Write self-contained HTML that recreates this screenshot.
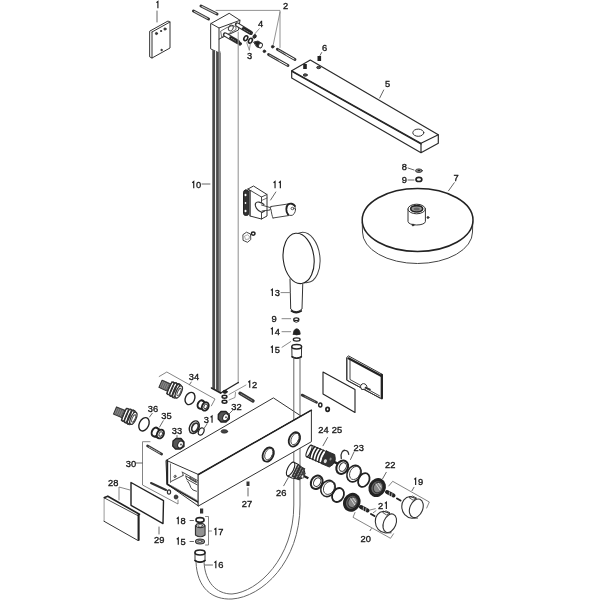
<!DOCTYPE html>
<html><head><meta charset="utf-8">
<style>
html,body{margin:0;padding:0;background:#fff;}
svg{display:block;}
text{font-family:"Liberation Sans",sans-serif;font-size:9.3px;fill:#1a1a1a;stroke:#1a1a1a;stroke-width:0.35px;}
svg{will-change:transform;}
</style></head><body>
<svg width="600" height="600" viewBox="0 0 600 600">
<defs>
<g id="bolt"><line x1="0" y1="0" x2="1" y2="0"/></g>
</defs>
<g fill="none" stroke="#333" stroke-width="1" stroke-linejoin="round" stroke-linecap="round">

<!-- ===== Part 1 plate ===== -->
<path d="M150,31 L168,21 L170,22 L170,48 L152,58 L150,57 Z"/>
<path d="M152,32 L170,22 M152,32 L152,58"/>
<line x1="157" y1="11" x2="157" y2="22" stroke="#666"/>
<circle cx="156.5" cy="33.5" r="1.1" fill="#333"/>
<circle cx="165" cy="29" r="1.1" fill="#333"/>
<circle cx="161" cy="31" r="0.6" fill="#333"/>
<circle cx="161.5" cy="50" r="0.7" fill="#333"/>

<!-- ===== Bolts 2 left ===== -->
<path d="M201,6 L217,14 M193.5,11 L208.5,19" stroke="#333" stroke-width="3"/>
<path d="M202,6.5 L216,13.5 M194.5,11.5 L207.5,18.5" stroke="#ccc" stroke-width="1.1" stroke-dasharray="1.3 0.9"/>
<!-- leader 2 -->
<path d="M216,10.4 L280,10.4 L280,47.5 M280,12 L273.3,44.5" stroke="#777" stroke-width="0.8"/>
<!-- Bolts 2 right -->
<circle cx="272.7" cy="46.7" r="1.3" fill="#222"/>
<circle cx="264.4" cy="51.3" r="1.3" fill="#222"/>
<path d="M277.3,49.3 L295,59.5 M268.5,54.5 L288,65.5" stroke="#333" stroke-width="2.8"/>
<path d="M278.5,50 L286,54.3 M269.7,55.2 L279,60.5" stroke="#bbb" stroke-width="1" stroke-dasharray="1.2 0.9"/>
<path d="M286,54.5 L294,59 M279,60.5 L287,65" stroke="#fff" stroke-width="1"/>

<!-- ===== Wall bracket block ===== -->
<path d="M211,23.5 L229.2,13.3 L240,20.3 L238.5,30 L219,39 L219,53 L211,49 Z" fill="#fff"/>
<path d="M211,23.5 L219,28 L240,20.3 M219,28 L219,39"/>
<path d="M221,31 L227,27.5 L233,25.5 L236,27 L236,29.5 L229,33.5 L222,37 Z" stroke-width="0.7"/>
<ellipse cx="230.8" cy="28" rx="2.2" ry="3" transform="rotate(30 230.8 28)" stroke-width="0.9"/>
<!-- pins -->
<path d="M237,24.5 L250.8,32.8 M225,34.5 L237.9,42" stroke="#333" stroke-width="4.4"/>
<path d="M237.5,24.8 L242,27.5 M225.5,34.8 L229.5,37.1" stroke="#fff" stroke-width="2.4"/>
<path d="M243,28.5 L250,32.5 M230.5,37.5 L237,41.5" stroke="#222" stroke-width="2.6"/>
<path d="M244,29.5 L249.5,32.6 M231.5,38.5 L236.5,41.5" stroke="#aaa" stroke-width="0.7" stroke-dasharray="0.7 1.3"/>
<circle cx="240" cy="43.7" r="1.5" fill="#222"/>
<!-- rings 3,4 -->
<ellipse cx="245.8" cy="38.2" rx="1.7" ry="2.6" transform="rotate(30 245.8 38.2)" stroke-width="1.6" stroke="#222"/>
<ellipse cx="250.4" cy="40.7" rx="1.7" ry="2.6" transform="rotate(30 250.4 40.7)" stroke-width="1.6" stroke="#222"/>
<ellipse cx="254.6" cy="36.4" rx="1.5" ry="2" transform="rotate(30 254.6 36.4)" fill="#333" stroke="#222" stroke-width="0.8"/>
<path d="M254,42 L258,41 L262,43.5 L261,48 L257,47 Z" fill="#222"/>
<ellipse cx="260.5" cy="45.5" rx="1.8" ry="2.4" transform="rotate(30 260.5 45.5)" fill="#fff" stroke-width="0.9"/>
<path d="M259.3,28.7 L254.7,34 M249.3,50 L246.7,42.7 M249.3,50 L250.5,42.7" stroke="#666" stroke-width="0.7"/>

<!-- ===== Rail 10 ===== -->
<path d="M212.3,50 L220.7,53 L220.7,392 L212.3,388 Z" fill="#4a4a4a" stroke="none"/>
<path d="M215.6,51 L215.6,389.5" stroke="#fff" stroke-width="1"/>
<path d="M219.6,52 L219.6,391" stroke="#888" stroke-width="2.1"/>
<path d="M238.2,32 L238.2,383" stroke="#999" stroke-width="1.1"/>
<path d="M220.7,393 L238.3,382.5" stroke="#222" stroke-width="1.4"/>
<path d="M211.5,388 L220.7,393" stroke="#222" stroke-width="1.6"/>
<path d="M202,184 L210,184" stroke="#666"/>

<!-- ===== Arm 5 ===== -->
<path d="M310.3,60.1 L291.7,70.8 L421,143.3 L438.3,134.8 Z" stroke-width="1.2" stroke="#2a2a2a"/>
<path d="M291.7,70.8 L291.7,78 L421,152.7 L438.3,143.3 L438.3,134.8 M421,143.3 L421,152.7" stroke-width="1.2" stroke="#2a2a2a"/>
<path d="M292,71.5 L421,144" stroke-width="1.4" stroke="#222"/>
<ellipse cx="418.3" cy="132.7" rx="5.5" ry="3.6"/>
<rect x="317.5" y="56" width="3.6" height="5" fill="#222" stroke="none"/>
<rect x="303.2" y="64" width="3.6" height="5" fill="#222" stroke="none"/>
<ellipse cx="318.7" cy="67.5" rx="2" ry="1.2" fill="#555"/>
<ellipse cx="305.3" cy="75" rx="2" ry="1.2" fill="#555"/>
<path d="M321.7,52.5 L320,55.5 M383.7,90 L379.7,98" stroke="#666"/>

<!-- ===== Head shower 7 ===== -->
<path d="M362.2,222 L362.5,232 A55,31.5 0 0 0 472.5,232 L472.8,221" stroke="#444"/>
<ellipse cx="417.6" cy="220" rx="55.4" ry="31.5" stroke-width="1.5" stroke="#222" fill="#fff"/>
<path d="M408,209 L408,221.5 A8.7,3.5 0 0 0 425.4,221.5 L425.4,209"/>
<ellipse cx="416.7" cy="209" rx="8.7" ry="4.8" fill="#fff"/>
<ellipse cx="416.7" cy="208.8" rx="6" ry="3.2" fill="#999" stroke="#222" stroke-width="1.6"/>
<ellipse cx="416.7" cy="209" rx="3" ry="1.5" fill="#666" stroke="none"/>
<circle cx="428" cy="217.5" r="0.9" fill="#222"/>
<circle cx="413" cy="225" r="0.9" fill="#222"/>
<ellipse cx="418.9" cy="170.7" rx="3.4" ry="1.8" fill="#888" stroke="#333" stroke-width="0.9"/>
<ellipse cx="418.9" cy="170.5" rx="1.3" ry="0.8" fill="#222" stroke="none"/>
<ellipse cx="418.9" cy="179.4" rx="2.9" ry="2.1" fill="#fff" stroke-width="1.7" stroke="#222"/>
<path d="M408,168 L414,170 M408,180 L414,180 M454.3,182.7 L448.5,190.8" stroke="#666"/>

<!-- ===== Holder 11 ===== -->
<rect x="243.5" y="190" width="5.2" height="25.5" rx="2.3" fill="#333" stroke="#222"/>
<ellipse cx="245.5" cy="195" rx="1" ry="1.3" fill="#fff" stroke="none"/>
<ellipse cx="245.5" cy="203" rx="0.8" ry="1" fill="#fff" stroke="none"/>
<ellipse cx="245.5" cy="211" rx="1" ry="1.3" fill="#fff" stroke="none"/>
<path d="M248,189 L253.5,186 L267,194.5 L267,216 L261.5,219 L250,216 L250,191 Z" fill="#fff"/>
<path d="M248,189 L261.5,197 L267,194.5 M261.5,197 L261.5,219 M250,191 L250,216" stroke-width="0.9"/>
<path d="M250,191 L251,190.5 M261.5,200.5 L267,198" stroke-width="0.7"/>
<path d="M264,204.5 C261,202 256.5,201 255.5,203.5 C254.5,206 257,211 262,212.5 L264.5,211" fill="#fff" stroke-width="1.1"/>
<path d="M261.5,205 L270,207.5 M262,211 L270,210 L271,206.5" stroke-width="0.9"/>
<path d="M271,206.5 L288,204 M273,218 L289,215.5 M271,209.5 C271.5,213 272,216 273,218" stroke-width="0.9"/>
<ellipse cx="291" cy="209.5" rx="4.5" ry="6" fill="#fff" stroke-width="0.9"/>
<path d="M288,214.5 C285.5,212 286,206 288,204.5 C290,203 293.5,203.5 295,206" stroke="#222" stroke-width="1.8"/>
<ellipse cx="292.5" cy="208.5" rx="1.5" ry="1.2" stroke-width="0.8"/>
<path d="M275.8,192 L270.6,200" stroke="#666"/>
<path d="M243.2,234.5 L246.5,232.2 L250.5,234 L250.8,239.5 L247.5,242.3 L243.4,240.5 Z" stroke-width="0.9"/>
<path d="M244.8,236 L247.5,234.8 L249.5,236.5 L249,239 L246,239.5 Z" stroke-width="0.6" stroke="#777"/>
<ellipse cx="253.2" cy="233.6" rx="1.8" ry="1.6" stroke="#222" stroke-width="1.5"/>

<!-- ===== Hand shower 13 ===== -->
<ellipse cx="304.5" cy="257.5" rx="15.4" ry="25.3" transform="rotate(-7 304.5 257.5)" stroke="#444"/>
<path d="M290,279 L290.7,309 Q296,314.5 302,309 L302.75,284.25" fill="#fff"/>
<path d="M291.5,311 Q296,314 301.2,311" stroke="#222" stroke-width="1.8"/>
<ellipse cx="298.6" cy="258.4" rx="15.4" ry="25.3" transform="rotate(-7 298.6 258.4)" fill="#fff" stroke="#222" stroke-width="1.1"/>
<path d="M281,292.6 L290,292.6 M282,318.7 L290.7,318.7 M282,331.7 L290.7,331.7 M282,347.3 L290.7,341.6" stroke="#888"/>
<path d="M293.8,319.2 L293.8,321.3 Q296.3,323.2 298.8,321.3 L298.8,319.2" fill="#fff" stroke="#222" stroke-width="1"/>
<ellipse cx="296.3" cy="319.2" rx="2.5" ry="1.3" fill="#fff" stroke="#222" stroke-width="1.1"/>
<path d="M293.3,334.2 Q293.5,329 296.7,328.8 Q299.9,329 300.2,334.2 Q296.7,335.6 293.3,334.2 Z" fill="#222" stroke="#222" stroke-width="0.8"/>
<ellipse cx="296.7" cy="339.5" rx="3.4" ry="1.6" stroke="#222" stroke-width="1.3"/>
<!-- hose end fitting -->
<path d="M291.8,346.8 L292,357 Q296.7,359.5 301.4,357 L301.6,346.8" fill="#fff" stroke-width="1"/>
<path d="M292,356.8 Q296.7,359.6 301.4,356.8" stroke="#222" stroke-width="1.6"/>
<ellipse cx="296.7" cy="346.8" rx="4.9" ry="2.2" fill="#fff" stroke="#222" stroke-width="1.5"/>

<!-- ===== Frame & glass panel ===== -->
<path d="M348.7,356 L382.2,374.3 L382.2,398.6 L380,398 L346.8,380.2 L346.8,358 Z" fill="#fff" stroke-width="1"/>
<path d="M348.5,358.3 L381,375.8" stroke="#222" stroke-width="2.2"/>
<path d="M381.8,375 L381.8,398.3" stroke="#222" stroke-width="2.3"/>
<path d="M350,360 L350,379.5 L379.5,395.8" stroke-width="0.9"/>
<path d="M346.8,358 L346.8,380.2 L380,398" stroke-width="1"/>
<path d="M360.5,386.5 C360.5,384 363,383 365,384 C367,385 367.5,387.5 366,389 L362,389.5 Z" fill="#fff" stroke-width="1"/>
<path d="M365.5,387.5 L370,389.5" stroke-width="1.6"/>
<path d="M323,372 L355,389.5 L355,412.4 L323,394 Z" stroke="#222" stroke-width="1.1"/>
<path d="M302,395 L316.6,402.3" stroke="#333" stroke-width="2.6"/>
<path d="M305,396.6 L315.5,401.8" stroke="#888" stroke-width="0.9" stroke-dasharray="1 1"/>
<ellipse cx="320.3" cy="405" rx="1.6" ry="2" stroke-width="1.4" stroke="#222"/>
<ellipse cx="327.6" cy="409.3" rx="1.7" ry="2" stroke-width="1.7" stroke="#222"/>

<!-- ===== Body box ===== -->
<path d="M166.3,460.3 L273.4,397.9 L301,416 L198.4,474.5 L198.4,506 L167.3,484.3 Z" fill="#fff"/>
<path d="M166.3,460.3 L198.4,474.5"/>
<path d="M167.3,461 L167.3,484.3 L198,502" stroke="#222" stroke-width="1.8"/>
<path d="M170.5,464 L170.5,482.5" stroke="#777" stroke-width="1"/>
<path d="M171,481.5 L183.1,475.5 M182.2,472 Q183.5,474 183.1,475.5 M183,472.5 L197.5,480.5 M186,476.1 L197.1,482.5 M186.6,479 L197.1,484.8 M185.8,476 Q186,478.5 186.6,479" stroke-width="0.9"/>
<path d="M190,477.5 L196,480.8 Q197,482 196,482.3 L190,479 Q189,478 190,477.5 Z" stroke-width="0.8"/>
<path d="M187.5,481 Q190,484 190.8,487.5 Q192,490.5 196.5,491.3" stroke-width="0.9"/>
<ellipse cx="175" cy="476.4" rx="0.9" ry="1.3" transform="rotate(30 175 476.4)" stroke-width="0.8"/>
<path d="M172,486 L196.5,500" stroke="#888" stroke-width="0.8"/>
<ellipse cx="224.4" cy="431.4" rx="3.3" ry="1.7" fill="#444"/>
<!-- Hose 16 -->
<path d="M293.8,358 L293.8,505 C293.8,558 258,592 232,594 C216,594 205,582 204,562" stroke="#666"/>
<path d="M300,358 L300,505 C300,562 262,597 232,599 C212,600 197,588 196,562" stroke="#666"/>
<!-- front plate -->
<path d="M198.4,474.5 L311.4,410.2 L311.4,441.7 L198.4,506 Z" fill="#fff"/>
<path d="M198.4,474.5 L311.4,410.2" stroke="#222" stroke-width="1.5"/>
<ellipse cx="294.4" cy="439.4" rx="5.2" ry="7.5" transform="rotate(25 294.4 439.4)" stroke-width="1.8" stroke="#222"/>
<ellipse cx="295" cy="439" rx="3.6" ry="6" transform="rotate(25 295 439)" stroke-width="0.8"/>
<ellipse cx="268.2" cy="454.5" rx="5.2" ry="7.5" transform="rotate(25 268.2 454.5)" stroke-width="1.8" stroke="#222"/>
<ellipse cx="268.8" cy="454.1" rx="3.6" ry="6" transform="rotate(25 268.8 454.1)" stroke-width="0.8"/>
<rect x="246.5" y="481.5" width="3" height="4.5" fill="#333" stroke="none"/>
<rect x="200" y="508.5" width="3.2" height="5" fill="#333" stroke="none"/>
<line x1="248" y1="488" x2="248" y2="496" stroke="#666"/>

<!-- ===== Rings 12, bolt 12, nut 32 ===== -->
<ellipse cx="225" cy="391.8" rx="2.2" ry="1.5" fill="#222" stroke="#222"/>
<ellipse cx="224.5" cy="396.8" rx="2.4" ry="1.5" stroke-width="1.5" stroke="#222"/>
<ellipse cx="224.5" cy="401.8" rx="2.4" ry="1.5" stroke-width="1.5" stroke="#222"/>
<path d="M229,394.5 L246,385 M229,400 L235,397.5 L235.5,392.5" stroke="#777" stroke-width="0.8"/>
<path d="M240,393.3 L253,401" stroke="#333" stroke-width="3.4"/>
<path d="M241,394 L252,400.5" stroke="#888" stroke-width="1" stroke-dasharray="1 1"/>
<path d="M218.3,414.5 L221,411.5 L226,411.5 L229.3,415 L229.3,419 L226,422 L221,422 L218.2,419 Z" fill="#555" stroke="#222" stroke-width="1.3"/>
<ellipse cx="225.5" cy="417.3" rx="2.6" ry="3.6" transform="rotate(25 225.5 417.3)" fill="#fff" stroke="#222" stroke-width="1"/>
<circle cx="226" cy="417.3" r="1" fill="#555" stroke="none"/>
<path d="M232.5,410.5 L229,414" stroke="#666"/>

<!-- ===== Valves 34 / 36 ===== -->
<path d="M159.2,376.5 L166.8,372 L215,399 L211.4,405.8" stroke="#666" stroke-width="0.8"/>
<path d="M191.25,382 L189.4,384.75" stroke="#666"/>
<g transform="translate(160.5 383.8) rotate(24)">
  <rect x="0" y="-3.9" width="9.5" height="7.8" fill="#888" stroke="#333" stroke-width="1.1"/>
  <path d="M2,-3.9 L2,3.9 M4,-3.9 L4,3.9 M6,-3.9 L6,3.9 M8,-3.9 L8,3.9" stroke="#555" stroke-width="0.7"/>
  <path d="M9.5,-6.5 L18.5,-7.5 L21,-6 L21,6 L18.5,7.5 L9.5,6.5 Z" fill="#fff" stroke="#333"/>
  <ellipse cx="11" cy="0" rx="1.6" ry="6.8" fill="none" stroke="#333" stroke-width="1.3"/>
  <ellipse cx="14" cy="0" rx="1.8" ry="7.2" fill="none" stroke="#333" stroke-width="1.6"/>
  <ellipse cx="17" cy="0" rx="2" ry="7.4" fill="none" stroke="#333" stroke-width="1.6"/>
  <ellipse cx="20" cy="0" rx="2.6" ry="6.5" fill="#fff" stroke="#333" stroke-width="1.3"/>
  <ellipse cx="20.3" cy="0" rx="1.4" ry="4" fill="none" stroke="#444" stroke-width="0.9"/>
</g>
<ellipse cx="190" cy="398.5" rx="4.6" ry="6.4" transform="rotate(25 190 398.5)" stroke-width="1.4" stroke="#222"/>
<ellipse cx="201" cy="404.5" rx="3.2" ry="4.3" transform="rotate(25 201 404.5)" stroke-width="2" stroke="#222" fill="#fff"/>
<path d="M201.5,400.5 L205.5,402.5 M200,408.5 L204.5,410.5" stroke="#222" stroke-width="1.2"/>
<ellipse cx="205.3" cy="406.4" rx="3.2" ry="4.3" transform="rotate(25 205.3 406.4)" stroke-width="1.9" stroke="#222" fill="#fff"/>
<ellipse cx="205.6" cy="406.4" rx="1.6" ry="2.4" transform="rotate(25 205.6 406.4)" stroke-width="0.9"/>

<g transform="translate(115 410.5) rotate(23)">
  <rect x="0" y="-3.9" width="9.5" height="7.8" fill="#888" stroke="#333" stroke-width="1.1"/>
  <path d="M2,-3.9 L2,3.9 M4,-3.9 L4,3.9 M6,-3.9 L6,3.9 M8,-3.9 L8,3.9" stroke="#555" stroke-width="0.7"/>
  <path d="M9.5,-6.5 L18.5,-7.5 L21,-6 L21,6 L18.5,7.5 L9.5,6.5 Z" fill="#fff" stroke="#333"/>
  <ellipse cx="11" cy="0" rx="1.6" ry="6.8" fill="none" stroke="#333" stroke-width="1.3"/>
  <ellipse cx="14" cy="0" rx="1.8" ry="7.2" fill="none" stroke="#333" stroke-width="1.6"/>
  <ellipse cx="17" cy="0" rx="2" ry="7.4" fill="none" stroke="#333" stroke-width="1.6"/>
  <ellipse cx="20" cy="0" rx="2.6" ry="6.5" fill="#fff" stroke="#333" stroke-width="1.3"/>
  <ellipse cx="20.3" cy="0" rx="1.4" ry="4" fill="none" stroke="#444" stroke-width="0.9"/>
</g>
<ellipse cx="144" cy="424.3" rx="4.7" ry="7" transform="rotate(25 144 424.3)" stroke-width="1.4" stroke="#222"/>
<path d="M152.25,413.3 L149.5,417 M163.25,420.7 L159.6,427" stroke="#666"/>
<!-- nut 35 -->
<ellipse cx="155.2" cy="432" rx="3.3" ry="4.6" transform="rotate(25 155.2 432)" stroke-width="2" stroke="#222" fill="#fff"/>
<path d="M155.5,427.5 L160.5,429.5 M153.5,436.5 L159,438.5" stroke="#222" stroke-width="1.2"/>
<ellipse cx="160.4" cy="434" rx="3.3" ry="4.6" transform="rotate(25 160.4 434)" stroke-width="1.9" stroke="#222" fill="#fff"/>
<ellipse cx="160.7" cy="434" rx="1.6" ry="2.4" transform="rotate(25 160.7 434)" stroke-width="0.9"/>
<!-- nut 33 -->
<path d="M173,441 L176,438.5 L181,438.5 L184,442 L184,446.5 L180.5,449 L175.5,449 L172.7,446 Z" fill="#555" stroke="#222" stroke-width="1.3"/>
<ellipse cx="180.5" cy="444.5" rx="2.6" ry="3.6" transform="rotate(25 180.5 444.5)" fill="#fff" stroke="#222" stroke-width="1"/>
<circle cx="181" cy="444.5" r="1" fill="#555" stroke="none"/>
<path d="M177,435.5 L177,438" stroke="#666"/>
<!-- washer 31 -->
<ellipse cx="194.3" cy="427.2" rx="4.6" ry="6.6" transform="rotate(25 194.3 427.2)" stroke-width="1.4" stroke="#222"/>
<ellipse cx="195" cy="427.4" rx="2.9" ry="4.6" transform="rotate(25 195 427.4)" stroke-width="1.8" stroke="#333"/>
<ellipse cx="201.2" cy="431.5" rx="2.6" ry="3.8" transform="rotate(25 201.2 431.5)" stroke-width="1.2" stroke="#222"/>
<path d="M207,424 L204,428.5" stroke="#666"/>

<!-- ===== Part 30, 28, 29 ===== -->
<path d="M150,441.7 L142.5,441.7 L142.5,485 L178,504 L178,500" stroke="#666" stroke-width="0.8"/>
<path d="M136,463 L142.5,463" stroke="#666"/>
<path d="M147.5,445.8 L161.7,454.2" stroke="#333" stroke-width="2.6"/>
<path d="M149,447 L160,453.2" stroke="#fff" stroke-width="0.7" stroke-dasharray="1 1"/>
<path d="M151,483 L166,490" stroke="#333" stroke-width="2"/>
<ellipse cx="169" cy="492" rx="1.6" ry="2.2" stroke-width="1.2"/>
<ellipse cx="176" cy="497" rx="1.8" ry="2" fill="#444"/>
<path d="M131,482.5 L163.5,500.7 L163,523.6 L131,505.3 Z" stroke="#222" stroke-width="1.4"/>
<path d="M104.1,497.8 L104.1,521.3" stroke="#999" stroke-width="1"/>
<path d="M104.1,521.3 L137.6,540.3" stroke="#333" stroke-width="1"/>
<path d="M104.1,497.8 L137.6,515.5" stroke="#333" stroke-width="0.9"/>
<path d="M104.5,497.5 L107.8,496.2 L139.4,514.3" stroke="#222" stroke-width="1.7"/>
<path d="M138.6,514.8 L138.6,540" stroke="#222" stroke-width="2.1"/>
<path d="M119,500 L119,487 L130,490" stroke="#666" stroke-width="0.8"/>
<path d="M159,527 L159,534" stroke="#666"/>

<!-- ===== 17, 18, 15, 16 ===== -->
<ellipse cx="200" cy="520" rx="4" ry="2.3" stroke-width="1.7" stroke="#222"/>
<path d="M195.5,525.5 L195.5,535 Q200.3,538.5 205,535 L205,525.5" fill="#b5b5b5" stroke="#333" stroke-width="1.2"/>
<path d="M197,528 L197,535.5 M199,528.5 L199,536.5 M201,528.5 L201,536.5 M203,528 L203,535.5" stroke="#555" stroke-width="0.7"/>
<ellipse cx="200.3" cy="525.5" rx="4.2" ry="2.2" fill="#fff" stroke-width="1.2"/>
<ellipse cx="200.3" cy="525.8" rx="2.4" ry="1.2" stroke-width="0.8"/>
<ellipse cx="200" cy="541.5" rx="4.5" ry="2.5" fill="#999" stroke="#333" stroke-width="1.1"/>
<ellipse cx="200" cy="541.3" rx="2" ry="1" fill="#fff" stroke-width="0.8"/>
<path d="M205.5,516.5 L208.5,516.5 L208.5,545 L205.5,545 M208.5,531 L211.5,531" stroke="#666" stroke-width="0.8"/>
<path d="M190,520.5 L193.5,520.5 M190,541.5 L193.5,541.5" stroke="#666"/>
<path d="M195,552.5 L195,561 Q200,564 205,561 L205,552.5" fill="#fff" stroke-width="1"/>
<path d="M195,560.5 Q200,563.8 205,560.5" stroke="#222" stroke-width="1.6"/>
<ellipse cx="200" cy="552.5" rx="5" ry="2.5" fill="#fff" stroke-width="1.6" stroke="#222"/>
<path d="M204.5,565 L212.5,565" stroke="#666"/>

<!-- ===== Lower right: 24,25,23,22,26,21,20,19 ===== -->
<!-- cartridge 24 -->
<g transform="translate(309 451) rotate(23)">
  <path d="M0,-6.3 L17,-6.3 L17,6.3 L0,6.3" fill="#fff" stroke="#222" stroke-width="1"/>
  <ellipse cx="0" cy="0" rx="1.8" ry="6.3" fill="#fff" stroke="#222" stroke-width="1.1"/>
  <path d="M3.5,-6.3 Q1.7,0 3.5,6.3 M6.7,-6.3 Q4.9,0 6.7,6.3 M9.9,-6.3 Q8.1,0 9.9,6.3 M13.1,-6.3 Q11.3,0 13.1,6.3" stroke="#222" stroke-width="1.5"/>
  <path d="M16,-6.8 L25,-6.8 Q28,-3 28,0 Q28,3 25,6.8 L16,6.8 Q14.5,0 16,-6.8 Z" fill="#333" stroke="#222" stroke-width="0.8"/>
  <ellipse cx="19" cy="3" rx="1.5" ry="2" fill="#ddd" stroke="none"/>
  <ellipse cx="23" cy="-1" rx="1" ry="1.5" fill="#888" stroke="none"/>
  <path d="M27,0.3 L31.5,0.3" stroke="#222" stroke-width="2.4" stroke-linecap="butt"/>
</g>
<!-- clip 25 -->
<path d="M341.3,458.5 C340,453 343,450 345.2,450.3 C347,450.5 348.5,452.5 348.7,454.3" stroke-width="1.3"/>
<!-- upper rings -->
<ellipse cx="342.25" cy="467.2" rx="5.6" ry="7" transform="rotate(28 342.25 467.2)" stroke-width="2" stroke="#222"/>
<ellipse cx="342.8" cy="467" rx="3.3" ry="4.6" transform="rotate(28 342.8 467)" stroke-width="1"/>
<ellipse cx="354" cy="473.6" rx="6.7" ry="8.6" transform="rotate(28 354 473.6)" stroke-width="1.6" stroke="#222"/>
<ellipse cx="355" cy="473" rx="5" ry="7" transform="rotate(28 355 473)" stroke-width="0.8"/>
<ellipse cx="363.8" cy="480" rx="5.3" ry="7.3" transform="rotate(27 363.8 480)" stroke-width="1.8" stroke="#222"/>
<ellipse cx="377.2" cy="487.6" rx="7" ry="8.2" transform="rotate(28 377.2 487.6)" stroke-width="3" stroke="#222" fill="#666"/>
<ellipse cx="378" cy="487.5" rx="4.5" ry="5.5" transform="rotate(28 378 487.5)" stroke-width="1" stroke="#333" fill="#888"/>
<path d="M376,484 L380,490 M378.5,483.5 L381,487" stroke="#eee" stroke-width="0.8"/>
<path d="M387,492 L393.5,495.5" stroke="#222" stroke-width="4"/>
<path d="M389.5,492 L389,496.5 M392,493.5 L391.5,497" stroke="#fff" stroke-width="0.6"/>
<path d="M397,498.5 L400.5,500.5" stroke="#222" stroke-width="2"/>
<path d="M327.6,437.5 L323,445.75 M354,452 L350.5,459.5 M386.25,472.3 L382.6,478.75" stroke="#666"/>
<!-- fitting 26 -->
<g transform="translate(290.6 469) rotate(26)">
  <path d="M0,-7.5 L5,-7.5 L12,-5.5 L14,-3.5 L14,3.5 L12,5.5 L5,7.5 L0,7.5" fill="#fff" stroke="#222" stroke-width="1"/>
  <rect x="4" y="-7" width="9" height="13.5" fill="#333" stroke="none"/>
  <path d="M6,-6 L6,6 M9,-5.5 L9,5.5 M11.5,-4.5 L11.5,4.5" stroke="#bbb" stroke-width="0.7" stroke-dasharray="1.5 1.5"/>
  <rect x="12.5" y="-3.2" width="3" height="6.4" fill="#444" stroke="none"/>
  <ellipse cx="14" cy="1.5" rx="1" ry="1.2" fill="#fff" stroke="none"/>
  <path d="M15,0.5 L20,0.5" stroke="#222" stroke-width="2.4" stroke-linecap="butt"/>
  <ellipse cx="0" cy="0" rx="3" ry="7.5" fill="#fff" stroke="#222" stroke-width="1.1"/>
</g>
<path d="M283.7,485.75 L288.3,477.6" stroke="#666"/>
<!-- lower rings -->
<ellipse cx="316.7" cy="482.3" rx="5.6" ry="7" transform="rotate(28 316.7 482.3)" stroke-width="2" stroke="#222"/>
<ellipse cx="317.2" cy="482.1" rx="3.3" ry="4.6" transform="rotate(28 317.2 482.1)" stroke-width="1"/>
<ellipse cx="328" cy="488.5" rx="6.9" ry="8.4" transform="rotate(28 328 488.5)" stroke-width="1.6" stroke="#222"/>
<ellipse cx="329" cy="488" rx="5.2" ry="6.8" transform="rotate(28 329 488)" stroke-width="0.8"/>
<ellipse cx="338" cy="495" rx="5.6" ry="7.3" transform="rotate(27 338 495)" stroke-width="1.8" stroke="#222"/>
<ellipse cx="351.8" cy="502.3" rx="7" ry="8.2" transform="rotate(28 351.8 502.3)" stroke-width="3" stroke="#222" fill="#666"/>
<ellipse cx="352.6" cy="502.2" rx="4.5" ry="5.5" transform="rotate(28 352.6 502.2)" stroke-width="1" stroke="#333" fill="#888"/>
<path d="M350.6,498.7 L354.6,504.7 M353.1,498.2 L355.6,501.7" stroke="#eee" stroke-width="0.8"/>
<path d="M361,507 L367.5,510.5" stroke="#222" stroke-width="4"/>
<path d="M363.5,507 L363,511.5 M366,508.5 L365.5,512" stroke="#fff" stroke-width="0.6"/>
<path d="M371,514 L374.5,516" stroke="#222" stroke-width="2"/>
<!-- knob 19 -->
<path d="M410,496.5 C405,497 401.5,501.5 401.8,507 C402,513 406,517.5 412,518.2 L417.5,518" fill="#fff" stroke-width="1.1"/>
<path d="M410,496.5 L416,498.5" stroke-width="1.1"/>
<ellipse cx="416.3" cy="508.3" rx="6.4" ry="9.7" transform="rotate(22 416.3 508.3)" fill="#fff" stroke-width="1.1"/>
<path d="M409.5,497.5 L412.5,496 L416.5,498 L413.5,500 Z" stroke-width="0.8"/>
<!-- knob 20 -->
<path d="M383.5,511.3 C378.5,511.8 375,516.3 375.3,521.8 C375.5,527.8 379.5,532.3 385.5,533 L391,532.8" fill="#fff" stroke-width="1.1"/>
<path d="M383.5,511.3 L389.5,513.3" stroke-width="1.1"/>
<ellipse cx="389.75" cy="523.2" rx="6.2" ry="9.7" transform="rotate(22 389.75 523.2)" fill="#fff" stroke-width="1.1"/>
<path d="M383,512.3 L386,510.8 L390,512.8 L387,514.8 Z" stroke-width="0.8"/>
<!-- brackets 19/20/21 -->
<path d="M388.7,486 L392.7,481.3 L429.3,502 L426.7,508" stroke="#666" stroke-width="0.8"/>
<path d="M414,487.3 L412,490.7" stroke="#666"/>
<path d="M355,512.5 L353,517.3 L390.5,538.3 L393.5,533.8" stroke="#666" stroke-width="0.8"/>
<path d="M370,530.7 L371.3,528.7" stroke="#666"/>
<path d="M375.3,508.7 L370,510 M376,510.7 L373.3,512.7" stroke="#666" stroke-width="0.8"/>

</g>
<g>
<path d="M156.40,2.63 L157.90,1.43 L157.90,8.23" fill="none" stroke="#1a1a1a" stroke-width="1.15" stroke-linecap="butt" stroke-linejoin="miter"/>
<text x="285.50" y="8.83" text-anchor="middle">2</text>
<text x="249.50" y="58.83" text-anchor="middle">3</text>
<text x="260.50" y="27.33" text-anchor="middle">4</text>
<text x="324.50" y="50.58" text-anchor="middle">6</text>
<text x="387.50" y="86.83" text-anchor="middle">5</text>
<path d="M192.25,182.73 L193.75,181.53 L193.75,188.33" fill="none" stroke="#1a1a1a" stroke-width="1.15" stroke-linecap="butt" stroke-linejoin="miter"/>
<text x="198.65" y="188.33" text-anchor="middle">0</text>
<path d="M273.55,182.73 L275.05,181.53 L275.05,188.33" fill="none" stroke="#1a1a1a" stroke-width="1.15" stroke-linecap="butt" stroke-linejoin="miter"/>
<path d="M278.85,182.73 L280.35,181.53 L280.35,188.33" fill="none" stroke="#1a1a1a" stroke-width="1.15" stroke-linecap="butt" stroke-linejoin="miter"/>
<text x="404.30" y="170.08" text-anchor="middle">8</text>
<text x="404.30" y="183.33" text-anchor="middle">9</text>
<text x="456.00" y="180.83" text-anchor="middle">7</text>
<path d="M270.85,290.33 L272.35,289.13 L272.35,295.93" fill="none" stroke="#1a1a1a" stroke-width="1.15" stroke-linecap="butt" stroke-linejoin="miter"/>
<text x="277.25" y="295.93" text-anchor="middle">3</text>
<text x="274.00" y="321.58" text-anchor="middle">9</text>
<path d="M270.85,329.13 L272.35,327.93 L272.35,334.73" fill="none" stroke="#1a1a1a" stroke-width="1.15" stroke-linecap="butt" stroke-linejoin="miter"/>
<text x="277.25" y="334.73" text-anchor="middle">4</text>
<path d="M270.85,347.48 L272.35,346.28 L272.35,353.08" fill="none" stroke="#1a1a1a" stroke-width="1.15" stroke-linecap="butt" stroke-linejoin="miter"/>
<text x="277.25" y="353.08" text-anchor="middle">5</text>
<text x="191.35" y="379.83" text-anchor="middle">3</text>
<text x="196.65" y="379.83" text-anchor="middle">4</text>
<path d="M248.25,382.23 L249.75,381.03 L249.75,387.83" fill="none" stroke="#1a1a1a" stroke-width="1.15" stroke-linecap="butt" stroke-linejoin="miter"/>
<text x="254.65" y="387.83" text-anchor="middle">2</text>
<text x="233.85" y="409.83" text-anchor="middle">3</text>
<text x="239.15" y="409.83" text-anchor="middle">2</text>
<text x="150.35" y="411.83" text-anchor="middle">3</text>
<text x="155.65" y="411.83" text-anchor="middle">6</text>
<text x="163.85" y="418.83" text-anchor="middle">3</text>
<text x="169.15" y="418.83" text-anchor="middle">5</text>
<text x="206.35" y="422.83" text-anchor="middle">3</text>
<path d="M210.55,417.23 L212.05,416.03 L212.05,422.83" fill="none" stroke="#1a1a1a" stroke-width="1.15" stroke-linecap="butt" stroke-linejoin="miter"/>
<text x="174.35" y="433.83" text-anchor="middle">3</text>
<text x="179.65" y="433.83" text-anchor="middle">3</text>
<text x="128.35" y="467.23" text-anchor="middle">3</text>
<text x="133.65" y="467.23" text-anchor="middle">0</text>
<text x="110.65" y="485.53" text-anchor="middle">2</text>
<text x="115.95" y="485.53" text-anchor="middle">8</text>
<text x="156.55" y="543.23" text-anchor="middle">2</text>
<text x="161.85" y="543.23" text-anchor="middle">9</text>
<path d="M176.75,518.73 L178.25,517.53 L178.25,524.33" fill="none" stroke="#1a1a1a" stroke-width="1.15" stroke-linecap="butt" stroke-linejoin="miter"/>
<text x="183.15" y="524.33" text-anchor="middle">8</text>
<path d="M176.75,539.23 L178.25,538.03 L178.25,544.83" fill="none" stroke="#1a1a1a" stroke-width="1.15" stroke-linecap="butt" stroke-linejoin="miter"/>
<text x="183.15" y="544.83" text-anchor="middle">5</text>
<path d="M214.35,529.53 L215.85,528.33 L215.85,535.13" fill="none" stroke="#1a1a1a" stroke-width="1.15" stroke-linecap="butt" stroke-linejoin="miter"/>
<text x="220.75" y="535.13" text-anchor="middle">7</text>
<path d="M214.35,562.63 L215.85,561.43 L215.85,568.23" fill="none" stroke="#1a1a1a" stroke-width="1.15" stroke-linecap="butt" stroke-linejoin="miter"/>
<text x="220.75" y="568.23" text-anchor="middle">6</text>
<text x="244.35" y="506.58" text-anchor="middle">2</text>
<text x="249.65" y="506.58" text-anchor="middle">7</text>
<text x="278.65" y="495.53" text-anchor="middle">2</text>
<text x="283.95" y="495.53" text-anchor="middle">6</text>
<text x="320.85" y="433.43" text-anchor="middle">2</text>
<text x="326.15" y="433.43" text-anchor="middle">4</text>
<text x="334.35" y="433.43" text-anchor="middle">2</text>
<text x="339.65" y="433.43" text-anchor="middle">5</text>
<text x="356.10" y="450.73" text-anchor="middle">2</text>
<text x="361.40" y="450.73" text-anchor="middle">3</text>
<text x="387.60" y="468.33" text-anchor="middle">2</text>
<text x="392.90" y="468.33" text-anchor="middle">2</text>
<path d="M414.15,479.33 L415.65,478.13 L415.65,484.93" fill="none" stroke="#1a1a1a" stroke-width="1.15" stroke-linecap="butt" stroke-linejoin="miter"/>
<text x="420.55" y="484.93" text-anchor="middle">9</text>
<text x="380.65" y="508.93" text-anchor="middle">2</text>
<path d="M384.85,503.33 L386.35,502.13 L386.35,508.93" fill="none" stroke="#1a1a1a" stroke-width="1.15" stroke-linecap="butt" stroke-linejoin="miter"/>
<text x="363.10" y="541.83" text-anchor="middle">2</text>
<text x="368.40" y="541.83" text-anchor="middle">0</text>
</g>
</svg>
</body></html>
